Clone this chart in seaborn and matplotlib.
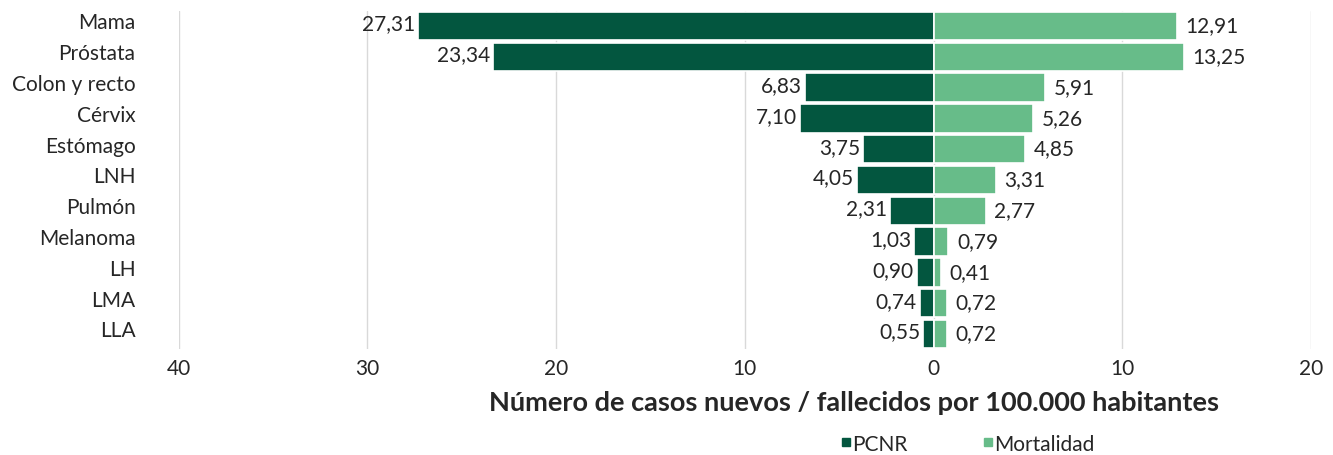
import matplotlib
matplotlib.use("Agg")
import matplotlib.pyplot as plt
import matplotlib.transforms as mtransforms
import seaborn as sns
import pandas as pd
from matplotlib.lines import Line2D

# ===== DATA =====
categorias = ["Mama", "Próstata", "Colon y recto", "Cérvix", "Estómago", "LNH",
              "Pulmón", "Melanoma", "LH", "LMA", "LLA"]
pcnr = [27.31, 23.34, 6.83, 7.10, 3.75, 4.05, 2.31, 1.03, 0.90, 0.74, 0.55]
mortalidad = [12.91, 13.25, 5.91, 5.26, 4.85, 3.31, 2.77, 0.79, 0.41, 0.72, 0.72]
xticks = [-40, -30, -20, -10, 0, 10, 20]

C_DARK = "#03563f"
C_LIGHT = "#67bc89"
FS = 15

df = pd.DataFrame({
    "categoria": categorias * 2,
    "valor": [-v for v in pcnr] + mortalidad,
    "serie": ["PCNR"] * len(categorias) + ["Mortalidad"] * len(categorias),
})

sns.set_style("white")
plt.rcParams["font.family"] = ["Lato", "DejaVu Sans"]

fig = plt.figure(figsize=(13.33, 4.56), dpi=100)
ax = fig.add_axes([0.134, 0.2316, 0.8495, 0.743])

sns.barplot(data=df, x="valor", y="categoria", hue="serie", orient="h",
            dodge=False, order=categorias, hue_order=["PCNR", "Mortalidad"],
            palette=[C_DARK, C_LIGHT], saturation=1, width=0.92,
            edgecolor="white", linewidth=1.2, legend=False, ax=ax, zorder=3)

ax.set_xlim(-40, 20)
ax.set_ylim(len(categorias) - 0.5, -0.5)
ax.set_xticks(xticks)
ax.set_xticklabels([str(abs(t)) for t in xticks], fontsize=FS)
ax.tick_params(axis="y", labelsize=FS, length=0, pad=31)
ax.tick_params(axis="x", length=0, pad=6)
ax.grid(axis="x", color="#d9d9d9", linewidth=1, zorder=0)
ax.set_axisbelow(True)
for s in ax.spines.values():
    s.set_visible(False)

# category labels sit a little above the bar centres
up = mtransforms.ScaledTranslation(0, 4 / 72, fig.dpi_scale_trans)
for lbl in ax.get_yticklabels():
    lbl.set_transform(lbl.get_transform() + up)

ax.set_ylabel("")
ax.set_xlabel("Número de casos nuevos / fallecidos por 100.000 habitantes",
              fontsize=19.5, fontweight="bold")
ax.xaxis.set_label_coords(0.596, -0.12)

fmt = lambda v: f"{v:.2f}".replace(".", ",")
for i, (a, b) in enumerate(zip(pcnr, mortalidad)):
    ax.text(-a - 0.15, i - 0.08, fmt(a), ha="right", va="center", fontsize=FS, zorder=5)
    ax.text(b + 0.45, i - 0.02, fmt(b), ha="left", va="center", fontsize=FS, zorder=5)

handles = [Line2D([], [], marker="s", linestyle="", color=C_DARK, markersize=5.5),
           Line2D([], [], marker="s", linestyle="", color=C_LIGHT, markersize=5.5)]
fig.legend(handles, ["PCNR", "Mortalidad"], loc="center", ncol=2,
           bbox_to_anchor=(0.726, 0.025), frameon=False, fontsize=FS,
           handlelength=0.5, handletextpad=0.05, columnspacing=3.6)

plt.savefig("out.png", dpi=100)
plt.close()
